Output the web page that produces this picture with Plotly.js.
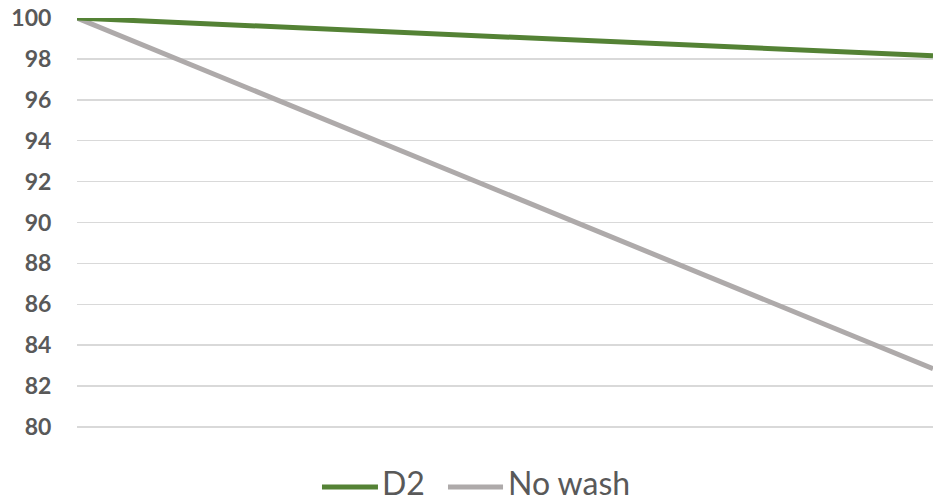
<!DOCTYPE html>
<html>
<head>
<meta charset="utf-8">
<script src="https://cdn.plot.ly/plotly-3.0.1.min.js"></script>
<style>html,body{margin:0;padding:0;background:#fff;}#chart{width:933px;height:502px;}</style>
</head>
<body>
<div id="chart"></div>
<script>
var xPoints = [0, 1];
var seriesNames = ["D2", "No wash"];
var d2Values = [100, 98.15];
var noWashValues = [100, 82.85];
var seriesColors = ["#548235", "#AEAAAA"];
var yTickValues = [80, 82, 84, 86, 88, 90, 92, 94, 96, 98, 100];

var traces = [
  {x: xPoints, y: noWashValues, name: seriesNames[1], type: "scatter", mode: "lines",
   line: {color: seriesColors[1], width: 5}, cliponaxis: false, hoverinfo: "none"},
  {x: xPoints, y: d2Values, name: seriesNames[0], type: "scatter", mode: "lines",
   line: {color: seriesColors[0], width: 5}, cliponaxis: false, hoverinfo: "none"}
];

// plot area: y=80 at 427px, y=100 at 18px; range extended to 79.9 (bottom edge at 429px)
var legendY = -58 / 411;
var legendItems = [
  {x0: 0.2862, x1: 0.3516, tx: 0.3540, name: seriesNames[0], color: seriesColors[0]},
  {x0: 0.4334, x1: 0.4977, tx: 0.5010, name: seriesNames[1], color: seriesColors[1]}
];
var shapes = legendItems.map(function (it) {
  return {type: "line", xref: "paper", yref: "paper", x0: it.x0, x1: it.x1, y0: legendY, y1: legendY,
          line: {color: it.color, width: 5}};
});
var annotations = legendItems.map(function (it) {
  return {xref: "paper", yref: "paper", x: it.tx, y: legendY + 4.5 / 411, xanchor: "left", yanchor: "middle",
          text: it.name, showarrow: false, font: {family: "Lato, sans-serif", size: 32, color: "#595959"}};
});

var layout = {
  width: 933, height: 502,
  margin: {l: 77, r: 0, t: 18, b: 73, pad: 0},
  paper_bgcolor: "#ffffff", plot_bgcolor: "#ffffff",
  showlegend: false,
  xaxis: {range: [0, 1], showgrid: false, zeroline: false, showticklabels: false, ticks: "", showline: false, fixedrange: true},
  yaxis: {range: [79.9, 100], tickvals: yTickValues, ticktext: yTickValues.map(String),
          showgrid: true, gridcolor: "#D9D9D9", gridwidth: 1.5, zeroline: false, showline: false,
          ticks: "outside", ticklen: 20, tickcolor: "rgba(0,0,0,0)",
          tickfont: {family: "Lato, sans-serif", size: 23, color: "#595959", weight: "bold"}, fixedrange: true},
  shapes: shapes,
  annotations: annotations
};

Plotly.newPlot("chart", traces, layout, {displayModeBar: false, staticPlot: true});
</script>
</body>
</html>
